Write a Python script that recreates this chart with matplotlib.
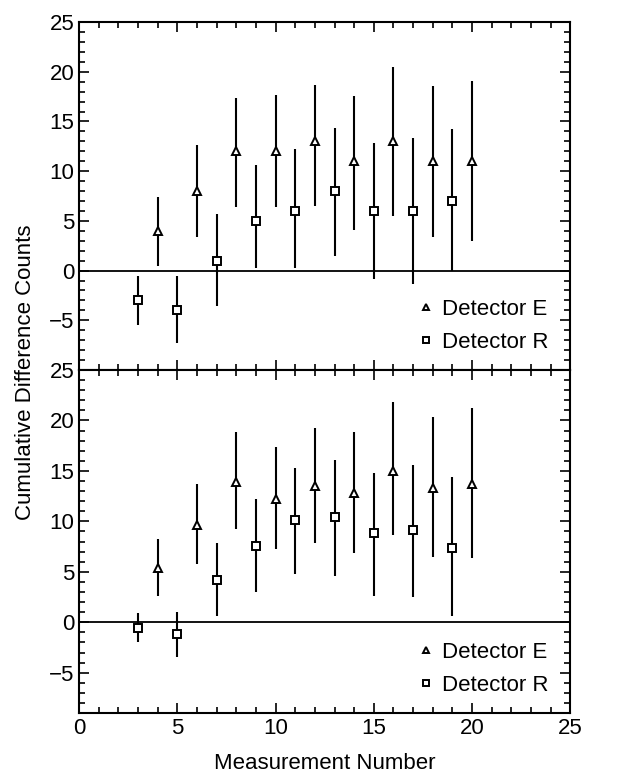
import numpy as np
import matplotlib
matplotlib.use("Agg")
import matplotlib.pyplot as plt
from matplotlib.ticker import MultipleLocator

plt.rcParams['font.family'] = ['Liberation Sans', 'DejaVu Sans']

# upper panel
top_e_x = [4, 6, 8, 10, 12, 14, 16, 18, 20]
top_e_y = [4, 8, 12, 12, 13, 11, 13, 11, 11]
top_e_hi = [7.4, 12.6, 17.4, 17.7, 18.7, 17.6, 20.5, 18.6, 19.1]
top_e_lo = [0.5, 3.4, 6.4, 6.4, 6.5, 4.1, 5.5, 3.4, 3.0]

top_r_x = [3, 5, 7, 9, 11, 13, 15, 17, 19]
top_r_y = [-3, -4, 1, 5, 6, 8, 6, 6, 7]
top_r_hi = [-0.5, -0.5, 5.7, 10.6, 12.2, 14.3, 12.8, 13.3, 14.2]
top_r_lo = [-5.5, -7.3, -3.6, 0.3, 0.3, 1.5, -0.8, -1.3, 0.0]

# lower panel
bot_e_x = [4, 6, 8, 10, 12, 14, 16, 18, 20]
bot_e_y = [5.4, 9.6, 13.9, 12.2, 13.5, 12.8, 15.0, 13.3, 13.7]
bot_e_hi = [8.3, 13.7, 18.9, 17.4, 19.3, 18.9, 21.8, 20.3, 21.2]
bot_e_lo = [2.6, 5.8, 9.2, 7.3, 7.9, 6.9, 8.6, 6.5, 6.4]

bot_r_x = [3, 5, 7, 9, 11, 13, 15, 17, 19]
bot_r_y = [-0.6, -1.2, 4.2, 7.6, 10.1, 10.4, 8.8, 9.1, 7.4]
bot_r_hi = [0.9, 1.0, 7.9, 12.2, 15.3, 16.1, 14.8, 15.6, 14.4]
bot_r_lo = [-2.0, -3.4, 0.6, 3.0, 4.8, 4.6, 2.6, 2.5, 0.6]

yticks = [-5, 0, 5, 10, 15, 20, 25]
xticks = [0, 5, 10, 15, 20, 25]


def series(ax, x, y, lo, hi, marker, label):
    y = np.array(y)
    err = [y - np.array(lo), np.array(hi) - y]
    ax.errorbar(x, y, yerr=err, fmt='none', ecolor='k', elinewidth=1.5, capsize=0)
    ax.plot(x, y, linestyle='none', marker=marker, ms=6, mfc='white',
            mec='k', mew=1.4, label=label)


def style(ax, ylo):
    ax.set_xlim(0, 25)
    ax.set_ylim(ylo, 25)
    ax.axhline(0, color='k', lw=1.3, zorder=1)
    ax.set_yticks(yticks)
    ax.set_xticks(xticks)
    ax.xaxis.set_minor_locator(MultipleLocator(1))
    ax.yaxis.set_minor_locator(MultipleLocator(1))
    ax.tick_params(which='both', direction='in', top=True, right=True,
                   width=1.2, labelsize=16)
    ax.tick_params(which='major', length=7)
    ax.tick_params(which='minor', length=4)
    for s in ax.spines.values():
        s.set_linewidth(1.5)
    ax.legend(loc='lower right', frameon=False, fontsize=16, handletextpad=0.1,
              handlelength=1.2, markerscale=0.8, labelspacing=0.55,
              borderaxespad=0.6, bbox_to_anchor=(1.0, -0.015))


fig = plt.figure(figsize=(6.43, 7.78), dpi=100)
ax1 = fig.add_axes([0.123, 0.5244, 0.764, 0.4473])
ax2 = fig.add_axes([0.123, 0.0835, 0.764, 0.4409])

series(ax1, top_e_x, top_e_y, top_e_lo, top_e_hi, '^', 'Detector E')
series(ax1, top_r_x, top_r_y, top_r_lo, top_r_hi, 's', 'Detector R')
style(ax1, -10)
ax1.tick_params(labelbottom=False)

series(ax2, bot_e_x, bot_e_y, bot_e_lo, bot_e_hi, '^', 'Detector E')
series(ax2, bot_r_x, bot_r_y, bot_r_lo, bot_r_hi, 's', 'Detector R')
style(ax2, -9)
ax2.set_xlabel('Measurement Number', fontsize=16, labelpad=10)

fig.text(0.039, 0.522, 'Cumulative Difference Counts', rotation=90,
         ha='center', va='center', fontsize=16)

fig.savefig('out.png', dpi=100)
